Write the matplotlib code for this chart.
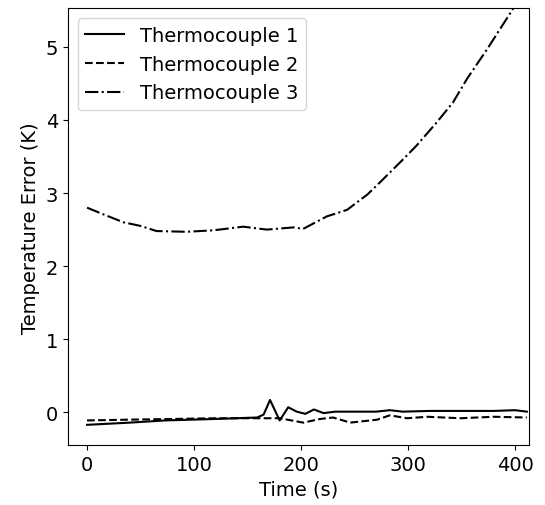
import matplotlib.pyplot as plt

# Thermocouple 3 (large offset, rising after ~200 s)
t3 = [0, 15, 34, 50, 65, 93, 118, 146, 168, 193, 202, 224, 243, 262, 274,
      296, 308, 327, 342, 355, 374, 399, 415]
e3 = [2.80, 2.71, 2.60, 2.55, 2.48, 2.47, 2.49, 2.54, 2.50, 2.53, 2.51, 2.68,
      2.77, 2.98, 3.15, 3.47, 3.65, 3.97, 4.24, 4.56, 4.97, 5.54, 5.80]

# Thermocouple 1 (solid)
t1 = [0, 40, 73, 120, 159, 165, 171, 180, 188, 196, 204, 212, 221, 232, 250,
      270, 283, 295, 320, 350, 380, 400, 411]
e1 = [-0.17, -0.14, -0.11, -0.09, -0.07, -0.03, 0.17, -0.11, 0.07, 0.01, -0.02,
      0.04, -0.01, 0.01, 0.01, 0.01, 0.03, 0.01, 0.02, 0.02, 0.02, 0.03, 0.01]

# Thermocouple 2 (dashed)
t2 = [0, 37, 80, 120, 162, 180, 202, 218, 230, 246, 271, 283, 299, 318, 349,
      380, 411]
e2 = [-0.11, -0.10, -0.09, -0.08, -0.08, -0.08, -0.14, -0.09, -0.07, -0.14,
      -0.10, -0.04, -0.08, -0.06, -0.08, -0.06, -0.07]

plt.rcParams['font.size'] = 14

fig = plt.figure(figsize=(5.45, 5.06), dpi=100)
ax = fig.add_axes([0.1244, 0.118, 0.8462, 0.8634])

ax.plot(t1, e1, color='black', linestyle='-', linewidth=1.5, label='Thermocouple 1')
ax.plot(t2, e2, color='black', linestyle='--', linewidth=1.5, label='Thermocouple 2')
ax.plot(t3, e3, color='black', linestyle='-.', linewidth=1.5, label='Thermocouple 3')

ax.set_xlim(-18, 413)
ax.set_ylim(-0.45, 5.525)
ax.set_xticks([0, 100, 200, 300, 400])
ax.set_yticks([0, 1, 2, 3, 4, 5])
ax.set_xlabel('Time (s)')
ax.set_ylabel('Temperature Error (K)')
ax.legend(loc='upper left')

fig.savefig('out.png', dpi=100)
